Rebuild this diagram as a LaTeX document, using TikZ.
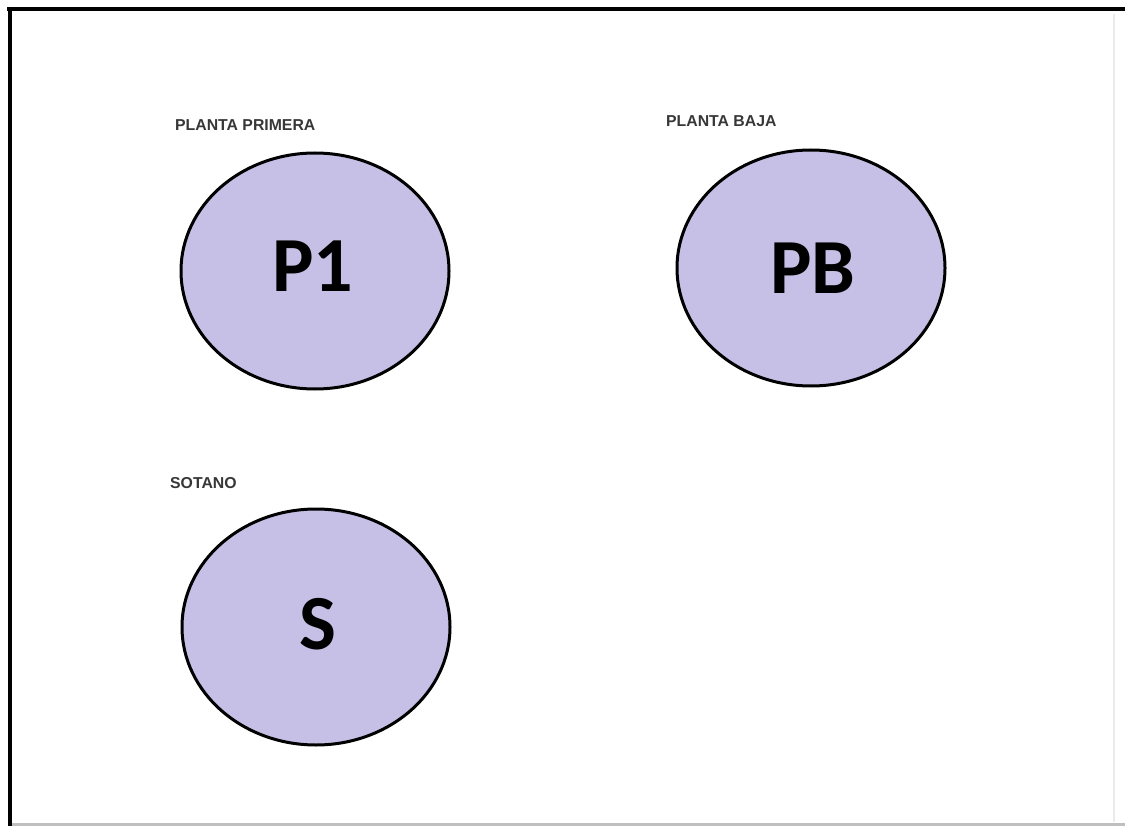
\documentclass[tikz,border=0pt]{standalone}
\usepackage{fontspec}
\setmainfont{Liberation Sans}
\newfontfamily\bigfont{Carlito}
\usetikzlibrary{shapes.geometric}
\definecolor{lav}{RGB}{198,192,230}
\definecolor{labgray}{RGB}{55,55,55}
\tikzset{
  floor/.style={ellipse, draw=black, line width=3pt, fill=lav, inner sep=0pt,
    minimum width=268pt, minimum height=236pt},
  bigtxt/.style={font=\bigfont\bfseries\fontsize{78}{78}\selectfont, inner sep=0pt, text=black},
  floorlab/.style={font=\bfseries\fontsize{15.8}{16}\selectfont, text=labgray, inner sep=0pt, anchor=west}
}
\begin{document}
\begin{tikzpicture}[x=1pt,y=-1pt]
\useasboundingbox (0,0) rectangle (1125,826);
\fill[white] (0,0) rectangle (1125,826);
% frame
\coordinate (tl) at (9.5,7);
\coordinate (tr) at (1125,9.5);
\coordinate (tl2) at (7,9.5);
\coordinate (bl) at (9.5,826);
\draw[line width=4pt, black] (tl2) -- (tr);
\draw[line width=4pt, black] (tl) -- (bl);
\coordinate (rt) at (1114,14);
\coordinate (rb) at (1114,822);
\draw[line width=2pt, black!8] (rt) -- (rb);
\coordinate (bb1) at (12,824.5);
\coordinate (bb2) at (1125,824.5);
\draw[line width=3pt, black!25] (bb1) -- (bb2);
% floors
\node[floor] (p1) at (315,271) {};
\node[floor] (pb) at (811,268) {};
\node[floor] (s) at (316,627) {};
\node[bigtxt] (p1t) at (313,266.5) {P1};
\node[bigtxt] (pbt) at (813,268) {PB};
\node[bigtxt] (st) at (318,624) {S};
% labels
\node[floorlab] (l1) at (175,125) {PLANTA PRIMERA};
\node[floorlab] (l2) at (666,121) {PLANTA BAJA};
\node[floorlab] (l3) at (170,483) {SOTANO};
\end{tikzpicture}
\end{document}
